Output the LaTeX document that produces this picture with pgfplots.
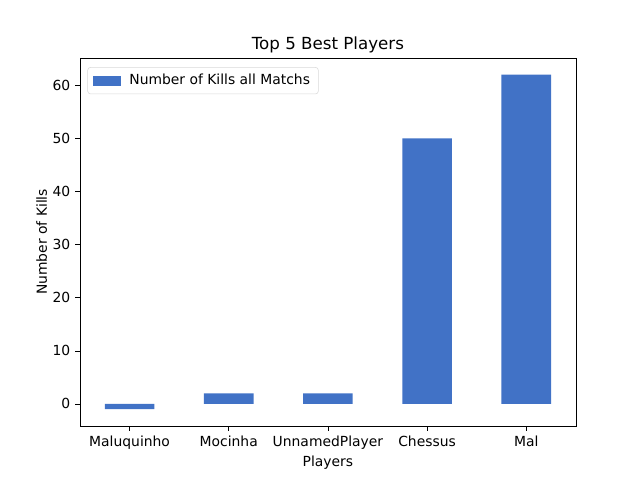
\documentclass[border=0pt]{standalone}
\usepackage{pgfplots}
\pgfplotsset{compat=1.18}
\usepackage{fontspec}
\setmainfont{DejaVu Sans}
\definecolor{barblue}{RGB}{65,114,198}

\begin{document}
\begin{tikzpicture}
\path[use as bounding box] (-57.6pt,-38.9pt) rectangle (403.2pt,306.7pt);
\begin{axis}[
  at={(0,0)}, anchor=south west,
  scale only axis,
  width=357pt, height=265pt,
  xmin=-0.5, xmax=4.5,
  ymin=-4.15, ymax=65.15,
  xtick={0,1,2,3,4},
  xticklabels={Maluquinho,Mocinha,UnnamedPlayer,Chessus,Mal},
  ytick={0,10,20,30,40,50,60},
  tick align=outside,
  tick style={black, thin},
  major tick length=3.5pt,
  xtick pos=bottom, ytick pos=left,
  font=\fontsize{10}{12}\selectfont,
  ticklabel style={font=\fontsize{10}{12}\selectfont},
  /pgf/number format/assume math mode=true,
  xlabel={Players}, ylabel={Number of Kills},
  xlabel style={yshift=2pt},
  ylabel style={yshift=-3pt},
  title={Top 5 Best Players},
  title style={font=\fontsize{12}{14}\selectfont, yshift=-6pt},
  legend style={at={(0.015,0.975)}, anchor=north west, draw=black!15, rounded corners=2pt,
    font=\fontsize{10}{12}\selectfont, inner xsep=4pt, inner ysep=3pt},
  legend cell align=left,
  axis line style={black, thin},
]
\addplot[ybar, bar width=0.5, fill=barblue, draw=none,
  legend image code/.code={\fill[barblue, sharp corners] (0pt,-3.6pt) rectangle (20pt,3.6pt); \path (24pt,0pt);}] coordinates {
  (0,-1) (1,2) (2,2) (3,50) (4,62)
};
\addlegendentry{Number of Kills all Matchs}
\end{axis}
\end{tikzpicture}
\end{document}
